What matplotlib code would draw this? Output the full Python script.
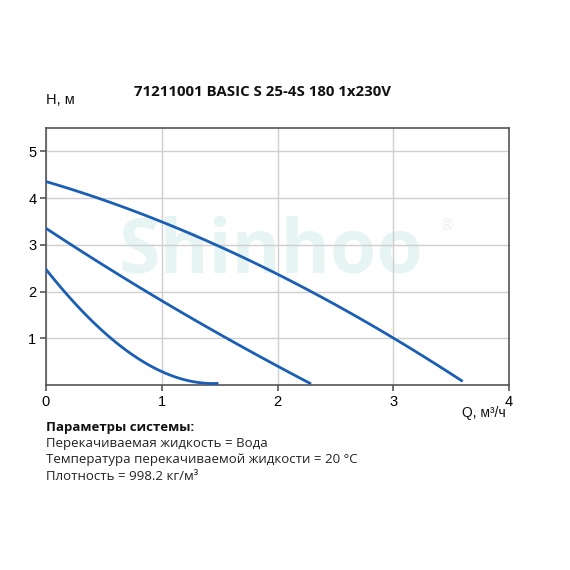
import numpy as np
import matplotlib.pyplot as plt

# pump curves (Q in m3/h, H in m)
q_high = [0.0, 0.5, 1.0, 1.5, 2.0, 2.5, 3.0, 3.32, 3.6]
h_high = [4.35, 3.96, 3.50, 2.96, 2.36, 1.72, 1.00, 0.55, 0.06]

q_mid = [0.0, 0.5, 1.0, 1.5, 2.0, 2.29]
h_mid = [3.35, 2.57, 1.79, 1.09, 0.41, 0.02]

q_low = [0.0, 0.25, 0.35, 0.58, 0.76, 1.0, 1.25, 1.49]
h_low = [2.47, 1.76, 1.48, 0.98, 0.59, 0.30, 0.09, 0.03]

x_ticks = [0, 1, 2, 3, 4]
y_ticks = [1, 2, 3, 4, 5]

title = '71211001 BASIC S 25-4S 180 1x230V'
info_lines = ['Перекачиваемая жидкость = Вода',
              'Температура перекачиваемой жидкости = 20 °C',
              'Плотность = 998.2 кг/м³']

blue = '#1a5fb4'

fig = plt.figure(figsize=(5.7, 5.7), dpi=100)
ax = fig.add_axes([46 / 570, 1 - 385 / 570, 463 / 570, 257 / 570])

# smooth the read points a bit
for q, h in [(q_high, h_high), (q_mid, h_mid), (q_low, h_low)]:
    xs = np.linspace(q[0], q[-1], 120)
    c = np.polyfit(q, h, 3)
    ax.plot(xs, np.polyval(c, xs), color=blue, lw=2.0, zorder=3, solid_capstyle='butt')

ax.set_xlim(0, 4)
ax.set_ylim(0, 5.5)
ax.set_xticks(x_ticks)
ax.set_yticks(y_ticks)
ax.grid(True, color='#cfcfcf', lw=1.0, zorder=1)
ax.set_axisbelow(True)
for s in ax.spines.values():
    s.set_color('#555555')
    s.set_linewidth(1.2)
ax.tick_params(direction='out', length=4, width=1.2, color='#555555',
               labelsize=10.5, pad=3)
for lab in ax.get_xticklabels() + ax.get_yticklabels():
    lab.set_fontfamily('Liberation Sans')

# watermark
ax.text(0.485, 0.515, 'Shinhoo', transform=ax.transAxes, ha='center', va='center',
        fontsize=54, fontweight='bold', fontfamily='Open Sans', color='#e6f4f4', zorder=0)
ax.text(0.85, 0.62, '®', transform=ax.transAxes, ha='left', va='center',
        fontsize=11, fontfamily='DejaVu Sans', color='#eeeeee', zorder=0)

fig.text(262 / 570, 1 - 92 / 570, title, ha='center', va='center',
         fontsize=10.8, fontweight='bold', fontfamily='Open Sans', color='#111111')
fig.text(46 / 570, 1 - 100 / 570, 'Н, м', ha='left', va='center',
         fontsize=10.5, fontfamily='Liberation Sans', color='#111111')
fig.text(506 / 570, 1 - 413 / 570, 'Q, м³/ч', ha='right', va='center',
         fontsize=10, fontfamily='Liberation Sans', color='#111111')

fig.text(46 / 570, 1 - 428 / 570, 'Параметры системы:', ha='left', va='center',
         fontsize=9.5, fontweight='bold', fontfamily='Open Sans', color='#111111')
for i, line in enumerate(info_lines):
    fig.text(46 / 570, 1 - (444 + 16 * i) / 570, line, ha='left', va='center',
             fontsize=9.5, fontfamily='Open Sans', color='#222222')

fig.savefig('out.png', dpi=100, facecolor='white')
